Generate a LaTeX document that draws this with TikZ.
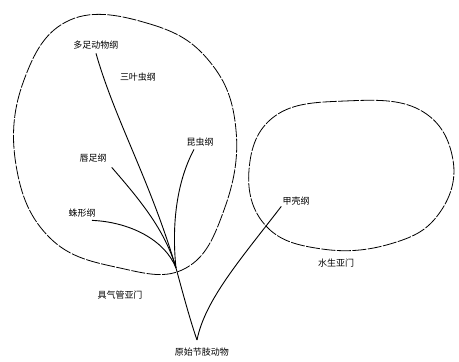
\documentclass[tikz,border=0pt]{standalone}
\usepackage{fontspec}
\newfontfamily\cjk{Noto Sans CJK SC}
\begin{document}
\begin{tikzpicture}[x=1pt,y=-1pt,
  lbl/.style={font=\cjk\fontsize{9}{10}\selectfont, inner sep=1pt},
  loop/.style={line width=0.8pt, dash pattern=on 14pt off 1.5pt},
  br/.style={line width=0.9pt}]
\useasboundingbox (0,0) rectangle (459,362);
% loops
\draw[loop] plot[smooth cycle, tension=0.7] coordinates {(70,20) (150,24) (210,62) (236,130) (224,210) (186,268) (120,268) (50,238) (16,165) (24,80)};
\draw[loop] plot[smooth cycle, tension=0.7] coordinates {(275,116) (345,101) (420,110) (453,160) (438,215) (390,244) (322,249) (266,226) (249,170)};
% labels
\node[lbl] (a) at (96,45) {多足动物纲};
\node[lbl] (b) at (138,77) {三叶虫纲};
\node[lbl] (c) at (93,158) {唇足纲};
\node[lbl] (d) at (200,142) {昆虫纲};
\node[lbl] (e) at (82,213) {蛛形纲};
\node[lbl] (f) at (296,201) {甲壳纲};
\node[lbl] (g) at (120,295) {具气管亚门};
\node[lbl] (h) at (336,263) {水生亚门};
\node[lbl] (i) at (202,352) {原始节肢动物};
% branches
\coordinate (root) at (197,340);
\coordinate (j) at (176,268);
\draw[br] (root) .. controls (190,320) and (182,290) .. (j);
\draw[br] (root) .. controls (205,300) and (240,260) .. (f.south west);
\draw[br] (a.south) ++(0,3) .. controls (115,120) and (150,180) .. (j);
\draw[br] (c.south east) ++(4,4) .. controls (140,200) and (165,230) .. (j);
\draw[br] (e.south) ++(10,2) .. controls (130,222) and (165,240) .. (j);
\draw[br] (d.south) ++(-6,2) .. controls (175,185) and (172,230) .. (j);
\end{tikzpicture}
\end{document}
